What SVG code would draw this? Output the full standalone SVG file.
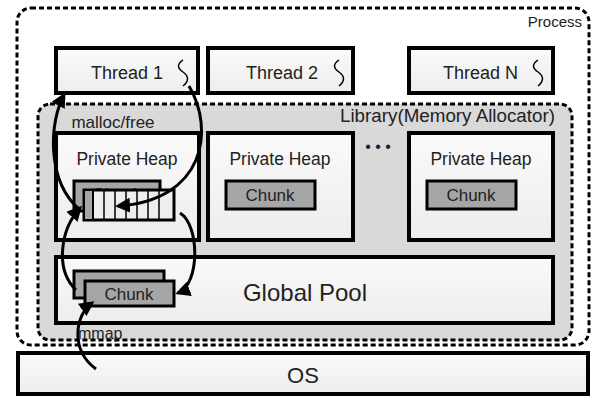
<svg xmlns="http://www.w3.org/2000/svg" width="600" height="403" viewBox="0 0 600 403">
<style>
text{font-family:"Liberation Sans",Arial,sans-serif;fill:#222}
.box{fill:url(#g);stroke:#000;stroke-width:4}
.chunk{fill:#a6a6a6;stroke:#000;stroke-width:3}
.arr{fill:none;stroke:#000;stroke-width:3;marker-end:url(#ah)}
</style>
<defs>
<linearGradient id="g" x1="0" y1="0" x2="0" y2="1"><stop offset="0" stop-color="#fafafa"/><stop offset="1" stop-color="#ededed"/></linearGradient>
<marker id="ah" viewBox="0 0 10 10" refX="8" refY="5" markerWidth="5" markerHeight="5" orient="auto"><path d="M0,0L10,5L0,10z" fill="#000"/></marker>
</defs>
<rect width="600" height="403" fill="#fff"/>
<g id="process"><rect x="17" y="8" width="572" height="337" rx="14" fill="none" stroke="#000" stroke-width="3" stroke-dasharray="5,3"/><text x="582" y="27" font-size="15" text-anchor="end">Process</text></g>
<g id="library"><rect x="38" y="104" width="534" height="236" rx="12" fill="#d9d9d9" stroke="#000" stroke-width="3" stroke-dasharray="5,3"/><text x="555" y="122" font-size="18" text-anchor="end" textLength="215" lengthAdjust="spacingAndGlyphs">Library(Memory Allocator)</text></g>
<g id="thread1"><rect class="box" x="56" y="48" width="142" height="45"/><text x="163" y="79" font-size="18" text-anchor="end">Thread 1</text><path d="M183,60c-6,4,-6,8,0,12s6,9,0,14" fill="none" stroke="#000" stroke-width="1.5"/></g>
<g id="thread2"><rect class="box" x="208" y="48" width="145" height="45"/><text x="318" y="79" font-size="18" text-anchor="end">Thread 2</text><path d="M339,60c-6,4,-6,8,0,12s6,9,0,14" fill="none" stroke="#000" stroke-width="1.5"/></g>
<g id="threadN"><rect class="box" x="409" y="48" width="144" height="45"/><text x="518" y="79" font-size="18" text-anchor="end">Thread N</text><path d="M538,60c-6,4,-6,8,0,12s6,9,0,14" fill="none" stroke="#000" stroke-width="1.5"/></g>
<g id="heap1"><rect class="box" x="56" y="133" width="143" height="107"/><text x="127" y="165" font-size="17.5" text-anchor="middle">Private Heap</text>
<rect class="chunk" x="74" y="181" width="86" height="30"/><text x="117" y="200" font-size="17" text-anchor="middle">Chunk</text>
<rect x="84" y="190" width="90" height="30" fill="#eee" stroke="#000" stroke-width="3"/><rect x="84" y="190" width="9" height="30" fill="#a6a6a6" stroke="#000" stroke-width="2"/>
<path d="M104,190v30M115,190v30M126,190v30M137,190v30M148,190v30M159,190v30" stroke="#000" stroke-width="1.5"/></g>
<g id="heap2"><rect class="box" x="208" y="133" width="145" height="107"/><text x="280" y="165" font-size="17.5" text-anchor="middle">Private Heap</text><rect class="chunk" x="226" y="181" width="89" height="28"/><text x="270" y="201" font-size="17" text-anchor="middle">Chunk</text></g>
<g id="heap3"><rect class="box" x="409" y="133" width="144" height="107"/><text x="481" y="165" font-size="17.5" text-anchor="middle">Private Heap</text><rect class="chunk" x="427" y="181" width="89" height="28"/><text x="471" y="201" font-size="17" text-anchor="middle">Chunk</text></g>
<text x="378" y="152" font-size="16" text-anchor="middle">• • •</text>
<g id="pool"><rect class="box" x="56" y="257" width="497" height="66"/><text x="305" y="301" font-size="24" text-anchor="middle">Global Pool</text>
<rect class="chunk" x="74" y="271" width="90" height="27"/><rect class="chunk" x="85" y="281" width="89" height="25"/><text x="129" y="300" font-size="17" text-anchor="middle">Chunk</text></g>
<g id="os"><rect class="box" x="18" y="353" width="570" height="41"/><text x="303" y="383" font-size="22" text-anchor="middle">OS</text></g>
<g id="connectors">
<path class="arr" d="M80,210C45,180,50,120,64,95"/>
<path class="arr" d="M189,86C215,130,205,200,118,206"/>
<path class="arr" d="M180,213C200,225,200,285,178,293"/>
<path class="arr" d="M76,290C55,270,60,230,80,208"/>
<path class="arr" d="M96,369C70,350,75,315,92,303"/>
</g>
<text x="113" y="128" font-size="17" text-anchor="middle">malloc/free</text>
<text x="78" y="339" font-size="16">mmap</text>
</svg>
